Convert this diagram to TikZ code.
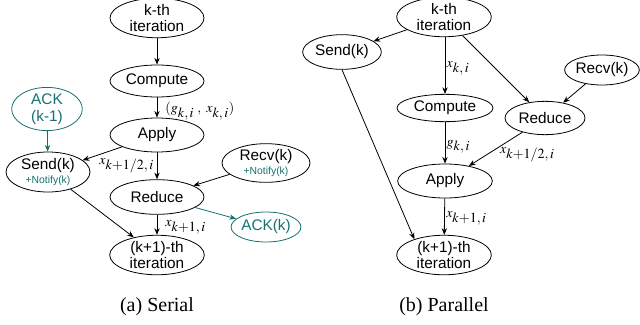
\documentclass[tikz,border=0pt]{standalone}
\usepackage{mathptmx}
\usepackage[no-math]{fontspec}
\setmainfont{Liberation Serif}
\newfontfamily\helv{Liberation Sans}
\usetikzlibrary{shapes.geometric,arrows.meta}
\definecolor{ackteal}{RGB}{22,112,112}
\newcommand{\notifytext}[1]{{\helv\fontsize{7.8}{8}\selectfont\color{ackteal}#1}}
\tikzset{
  state/.style={ellipse, draw, line width=0.6pt, inner sep=0pt, align=center,
    font=\helv\fontsize{11.5}{12.5}\selectfont},
  ackstate/.style={state, draw=ackteal, text=ackteal},
  flow/.style={line width=0.6pt, -{Stealth[length=5pt,width=4pt]}},
  ackflow/.style={flow, draw=ackteal},
  val/.style={font=\fontsize{10.5}{11}\selectfont, inner sep=1pt},
  caption/.style={font=\fontsize{15}{16}\selectfont}
}
\begin{document}
\begin{tikzpicture}[x=0.75pt, y=-0.75pt]
\useasboundingbox (0,0) rectangle (640,325);

% ---------- (a) Serial ----------
\node[state, minimum width=70.5pt, minimum height=26.5pt] (sk) at (157,18) {k-th\\iteration};
\node[state, minimum width=70.5pt, minimum height=24pt] (sc) at (157,81) {Compute};
\node[state, minimum width=70.5pt, minimum height=25.5pt] (sa) at (157,135) {Apply};
\node[ackstate, minimum width=53pt, minimum height=27pt] (sack) at (47,109) {ACK\\(k-1)};
\node[state, minimum width=63pt, minimum height=30pt] (ss) at (48,172)
  {Send(k)\\[-2pt]\notifytext{+Notify(k)}};
\node[state, minimum width=66pt, minimum height=29pt] (sr) at (266,163)
  {Recv(k)\\[-2pt]\notifytext{+Notify(k)}};
\node[state, minimum width=70.5pt, minimum height=26pt] (sred) at (157,197) {Reduce};
\node[ackstate, minimum width=49.5pt, minimum height=22.5pt] (sackk) at (266,227) {ACK(k)};
\node[state, minimum width=71pt, minimum height=28.5pt] (sn) at (157,255) {(k+1)-th\\iteration};

\draw[flow] (sk) -- (sc);
\draw[flow] (sc) -- node[val, anchor=west, pos=0.5, xshift=5pt, yshift=-3pt]
  {$(g_{\textstyle k,i}\;,\ x_{\textstyle k,i})$} (sa);
\draw[flow] (sa) -- node[val, anchor=east, pos=0.5, xshift=-1pt] {$x_{\textstyle k{+}1/2,i}$} (sred);
\draw[flow] (sa) -- (ss);
\draw[ackflow] (sack) -- (ss);
\draw[flow] (sr) -- (sred);
\draw[flow] (sred) -- node[val, anchor=west, pos=0.5, xshift=5pt, yshift=-2pt] {$x_{\textstyle k{+}1,i}$} (sn);
\draw[flow] (ss) -- (sn);
\draw[ackflow] (sred) -- (sackk);

\node[caption] (capa) at (157,307) {(a) Serial};

% ---------- (b) Parallel ----------
\node[state, minimum width=71pt, minimum height=25.5pt] (pk) at (444,17) {k-th\\iteration};
\node[state, minimum width=59pt, minimum height=26pt] (ps) at (342,52) {Send(k)};
\node[state, minimum width=72pt, minimum height=20.5pt] (pc) at (445,108) {Compute};
\node[state, minimum width=52.5pt, minimum height=22.5pt] (pr) at (602,70) {Recv(k)};
\node[state, minimum width=60pt, minimum height=25pt] (pred) at (545,118) {Reduce};
\node[state, minimum width=71pt, minimum height=25.5pt] (pa) at (445,181) {Apply};
\node[state, minimum width=71pt, minimum height=29pt] (pn) at (444,255) {(k+1)-th\\iteration};

\draw[flow] (pk.south -| pc) -- node[val, anchor=west, pos=0.5, yshift=-2pt] {$x_{\textstyle k,i}$} (pc);
\draw[flow] (pk) -- (ps);
\draw[flow] (pk) -- (pred);
\draw[flow] (pr) -- (pred);
\draw[flow] (pc) -- node[val, anchor=west, pos=0.5, yshift=-3pt] {$g_{\textstyle k,i}$} (pa);
\draw[flow] (pred) -- node[val, anchor=south west, pos=0.55, xshift=4pt, yshift=-10pt] {$x_{\textstyle k{+}1/2,i}$} (pa);
\draw[flow] (pa) -- node[val, anchor=west, pos=0.5, yshift=-1pt] {$x_{\textstyle k{+}1,i}$} (pn);
\draw[flow] (ps.south) -- (pn.152);

\node[caption] (capb) at (444,307) {(b) Parallel};
\end{tikzpicture}
\end{document}
